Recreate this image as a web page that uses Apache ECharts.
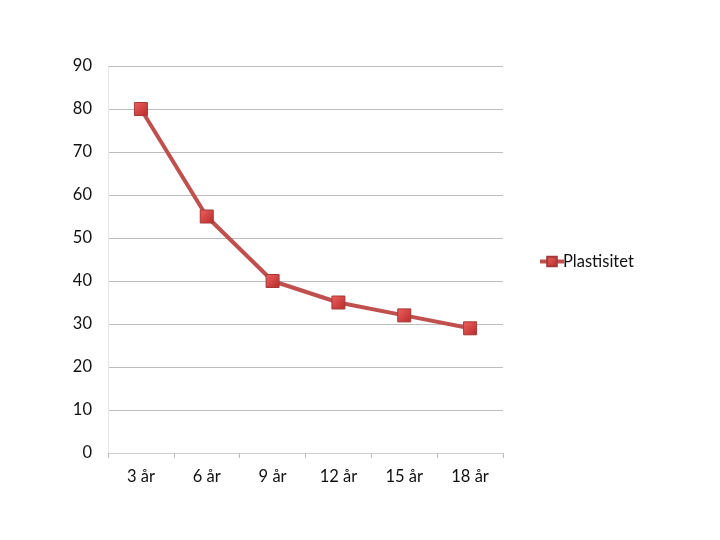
<!DOCTYPE html>
<html><head><meta charset="utf-8">
<script src="https://cdn.jsdelivr.net/npm/echarts@6/dist/echarts.min.js"></script>
<style>html,body{margin:0;padding:0;background:#fff}#c{width:720px;height:540px}</style>
</head><body><div id="c"></div>
<script>
const categories = ['3 år','6 år','9 år','12 år','15 år','18 år'];
const seriesName = 'Plastisitet';
const values = [80, 55, 40, 35, 32, 29];
const yTicks = {min:0, max:90, interval:10};

const chart = echarts.init(document.getElementById('c'));
chart.setOption({
  animation:false,
  backgroundColor:'#fff',
  textStyle:{fontFamily:'Lato'},
  grid:{left:108, top:66, right:217, bottom:87},
  legend:{
    data:[seriesName], orient:'vertical', left:533, top:248,
    itemWidth:24, itemHeight:12, itemGap:0,
    lineStyle:{width:4},
    textStyle:{fontFamily:'Lato', fontSize:16.5, color:'#111', padding:[0,0,0,-6]}
  },
  xAxis:{
    type:'category', data:categories, boundaryGap:true,
    axisLine:{lineStyle:{color:'#d0d0d0'}},
    axisTick:{show:true, length:5, lineStyle:{color:'#bbb'}},
    axisLabel:{fontFamily:'Lato', fontSize:16.5, color:'#111', margin:15}
  },
  yAxis:{
    type:'value', min:yTicks.min, max:yTicks.max, interval:yTicks.interval,
    axisLine:{show:true, lineStyle:{color:'#e6e6e6'}},
    axisTick:{show:false},
    splitLine:{lineStyle:{color:'#bdbdbd'}},
    axisLabel:{fontFamily:'Lato', fontSize:16.5, color:'#111', margin:16}
  },
  series:[{
    name:seriesName, type:'line', data:values,
    symbol:'rect', symbolSize:13,
    lineStyle:{color:'#c0504d', width:4},
    itemStyle:{
      color:new echarts.graphic.LinearGradient(0,0,1,1,[{offset:0,color:'#f06060'},{offset:1,color:'#b82a2a'}]),
      borderColor:'#a33a37', borderWidth:1
    }
  }]
});
</script></body></html>
